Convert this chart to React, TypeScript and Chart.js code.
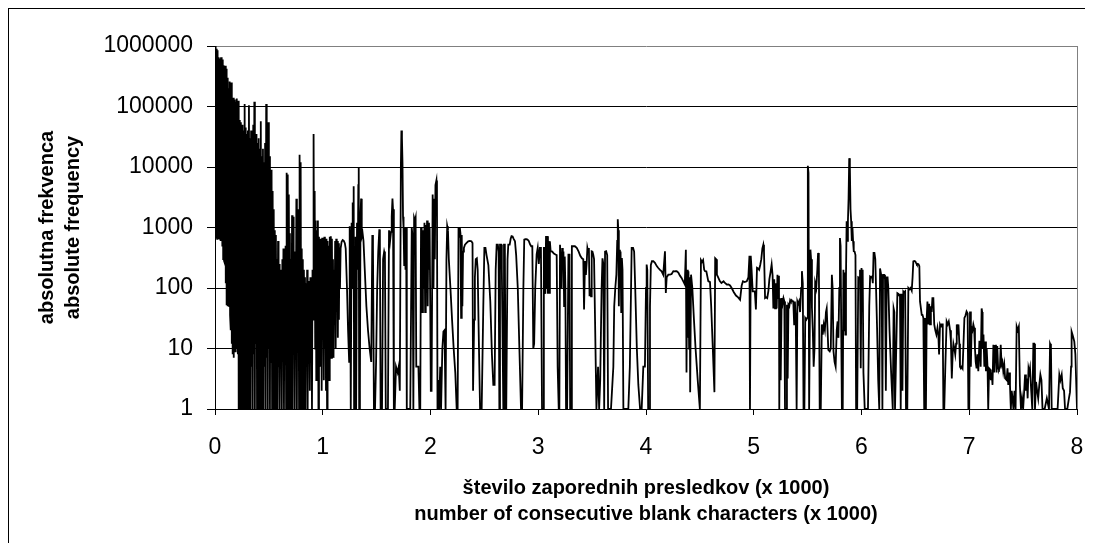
import React, { useEffect, useRef } from "react";
import { Chart, registerables } from "chart.js";

Chart.register(...registerables);

const xTickLabels = ["0", "1", "2", "3", "4", "5", "6", "7", "8"];
const yTickValues = [1, 10, 100, 1000, 10000, 100000, 1000000];
const xTitle = ["število zaporednih presledkov (x 1000)", "number of consecutive blank characters (x 1000)"];
const yTitle = ["absolutna frekvenca", "absolute frequency"];

// [number of consecutive blanks (x 1000), absolute frequency]
const headZone: [number, number][] = [
  [0, 1000000], [0.004, 700], [0.008, 980000], [0.012, 680], [0.016, 900000], [0.02, 650], [0.024, 850000], [0.028, 700],
  [0.032, 650000], [0.036, 680], [0.04, 620000], [0.044, 650], [0.048, 600000], [0.052, 600], [0.056, 650000], [0.06, 600],
  [0.064, 560000], [0.068, 500], [0.072, 600000], [0.076, 300], [0.08, 480000], [0.084, 280], [0.088, 450000], [0.092, 260],
  [0.096, 470000], [0.1, 120], [0.104, 420000], [0.108, 52], [0.112, 300000], [0.116, 50], [0.12, 250000], [0.124, 55],
  [0.128, 200000], [0.132, 50], [0.136, 260000], [0.14, 35], [0.144, 230000], [0.148, 20], [0.152, 250000], [0.156, 12],
  [0.16, 130000], [0.164, 8], [0.168, 140000], [0.172, 7], [0.176, 125000], [0.18, 10], [0.184, 130000], [0.188, 9],
  [0.192, 120000], [0.196, 12], [0.2, 135000], [0.204, 10], [0.208, 110000], [0.212, 8], [0.216, 125000], [0.22, 1],
  [0.224, 60000], [0.228, 10], [0.232, 50000], [0.236, 1], [0.24, 55000], [0.244, 15], [0.248, 45000], [0.252, 1], [0.256, 50000],
];

const denseZone: [number, number][] = [
  [0.26, 5], [0.265, 40000], [0.27, 1], [0.275, 110000], [0.28, 8], [0.285, 45000], [0.29, 1], [0.295, 35000],
  [0.3, 6], [0.305, 40000], [0.31, 1], [0.315, 105000], [0.32, 10], [0.325, 30000], [0.33, 1], [0.335, 40000],
  [0.34, 5], [0.345, 30000], [0.35, 1], [0.355, 50000], [0.36, 8], [0.365, 120000], [0.37, 1], [0.375, 30000],
  [0.38, 12], [0.385, 35000], [0.39, 1], [0.395, 25000], [0.4, 6], [0.405, 30000], [0.41, 1], [0.415, 20000],
  [0.42, 8], [0.425, 57000], [0.43, 1], [0.435, 15000], [0.44, 10], [0.445, 20000], [0.45, 1], [0.455, 12000],
  [0.46, 5], [0.465, 25000], [0.47, 1], [0.475, 110000], [0.48, 7], [0.485, 20000], [0.49, 1], [0.495, 55000],
  [0.5, 10], [0.505, 15000], [0.51, 1], [0.515, 8000], [0.52, 6], [0.525, 9000], [0.53, 1], [0.535, 4000],
];

const tailZone: [number, number][] = [
  [0.54, 1], [0.545, 2000], [0.55, 8], [0.555, 900], [0.56, 1], [0.565, 750], [0.57, 15], [0.575, 300],
  [0.58, 1], [0.585, 600], [0.59, 5], [0.595, 250], [0.6, 1], [0.605, 200], [0.61, 10], [0.615, 100],
  [0.62, 1], [0.625, 300], [0.63, 6], [0.635, 450], [0.64, 1], [0.645, 150], [0.65, 12], [0.655, 500],
  [0.66, 1], [0.665, 8000], [0.67, 3], [0.675, 7500], [0.68, 1], [0.685, 3500], [0.69, 20], [0.695, 800],
  [0.7, 1], [0.705, 300], [0.71, 8], [0.715, 1600], [0.72, 1], [0.725, 1500], [0.73, 30], [0.735, 400],
  [0.74, 1], [0.745, 150], [0.75, 10], [0.755, 3000], [0.76, 1], [0.765, 500], [0.77, 15], [0.775, 2000],
  [0.78, 1], [0.785, 16000], [0.79, 40], [0.795, 12000], [0.8, 1], [0.805, 450], [0.81, 8], [0.815, 300],
  [0.82, 1], [0.825, 200], [0.83, 20], [0.835, 150], [0.84, 1], [0.845, 120], [0.85, 6], [0.855, 200],
  [0.86, 1], [0.865, 130], [0.87, 10], [0.875, 100], [0.88, 2], [0.885, 150], [0.89, 8], [0.895, 130],
  [0.9, 1], [0.905, 200], [0.91, 30], [0.915, 35000], [0.92, 60], [0.925, 4000], [0.93, 10], [0.935, 1300],
  [0.94, 3], [0.945, 900], [0.95, 20], [0.955, 1300], [0.96, 1], [0.965, 700], [0.97, 10],
];

const zoneOne: [number, number][] = [
  [0.975, 650], [0.98, 5], [0.985, 600], [0.99, 2], [0.995, 680], [1, 30], [1.005, 620], [1.01, 3], [1.015, 700], [1.02, 10],
  [1.025, 550], [1.03, 2], [1.035, 650], [1.04, 1], [1.045, 600], [1.05, 8], [1.055, 500], [1.06, 3], [1.065, 700], [1.07, 20],
  [1.075, 720], [1.08, 7], [1.085, 650], [1.09, 12], [1.095, 300], [1.1, 7], [1.105, 200], [1.11, 25], [1.115, 600], [1.12, 10],
  [1.125, 650], [1.13, 40], [1.135, 600], [1.14, 15], [1.145, 550], [1.15, 30], [1.155, 400], [1.16, 100], [1.166, 450],
  [1.175, 580], [1.185, 620], [1.195, 600], [1.205, 550], [1.213, 450], [1.225, 100], [1.235, 20], [1.245, 6], [1.25, 1050],
  [1.255, 200], [1.258, 900], [1.262, 1], [1.268, 1200], [1.273, 100], [1.278, 2600], [1.283, 300], [1.287, 4800], [1.291, 1],
  [1.3, 1], [1.305, 700], [1.31, 1], [1.318, 1200], [1.325, 200], [1.33, 5000], [1.334, 10000], [1.338, 1], [1.345, 2],
  [1.35, 1500], [1.356, 3000], [1.362, 700], [1.37, 800], [1.378, 600], [1.39, 200], [1.405, 50], [1.42, 20], [1.435, 10],
  [1.45, 6], [1.46, 750], [1.466, 500], [1.475, 1], [1.485, 1], [1.495, 6], [1.505, 100], [1.515, 400], [1.525, 930],
  [1.53, 800], [1.537, 1], [1.55, 1], [1.56, 300], [1.57, 400], [1.577, 350], [1.585, 1], [1.605, 1], [1.615, 900],
  [1.625, 600], [1.634, 850], [1.64, 1500], [1.647, 3000], [1.652, 2000], [1.66, 1], [1.668, 1], [1.68, 5], [1.695, 4],
  [1.705, 5], [1.715, 2], [1.725, 10000], [1.73, 40000], [1.735, 30000], [1.74, 12000], [1.745, 1500], [1.75, 990],
  [1.756, 240], [1.762, 1000], [1.768, 200], [1.774, 990], [1.78, 1], [1.812, 1], [1.826, 990], [1.834, 700], [1.841, 1],
  [1.848, 1450], [1.856, 1300], [1.862, 1450], [1.868, 5], [1.88, 5], [1.888, 5], [1.897, 1], [1.905, 1], [1.912, 1000],
  [1.918, 750], [1.924, 40], [1.93, 900], [1.937, 100], [1.944, 1200], [1.95, 40], [1.956, 1100], [1.962, 200], [1.968, 1300],
  [1.974, 50], [1.98, 1200], [1.986, 200], [1.992, 1000], [1.998, 40],
];

const zoneTwo: [number, number][] = [
  [2.003, 2], [2.01, 2], [2.02, 3500], [2.028, 100], [2.034, 3000], [2.04, 300], [2.046, 5000], [2.055, 6000], [2.06, 3000],
  [2.065, 1], [2.072, 3], [2.08, 1], [2.09, 5], [2.098, 1], [2.11, 10], [2.12, 19], [2.13, 20], [2.14, 1], [2.148, 300],
  [2.155, 1050], [2.162, 900], [2.17, 300], [2.185, 100], [2.2, 30], [2.215, 10], [2.23, 4], [2.243, 1], [2.252, 1],
  [2.26, 990], [2.266, 700], [2.272, 1000], [2.278, 800], [2.284, 32], [2.29, 750], [2.296, 50], [2.302, 400], [2.31, 460],
  [2.32, 520], [2.335, 555], [2.35, 590], [2.365, 600], [2.38, 593], [2.39, 555], [2.395, 2], [2.4, 2], [2.405, 30],
  [2.412, 150], [2.42, 300], [2.43, 310], [2.438, 200], [2.447, 20], [2.46, 1], [2.475, 1], [2.49, 50], [2.5, 460],
  [2.51, 460], [2.52, 350], [2.537, 240], [2.555, 60], [2.57, 8], [2.583, 2.5], [2.595, 2.5], [2.605, 200], [2.614, 523],
  [2.625, 523], [2.632, 400], [2.639, 1], [2.645, 523], [2.655, 523], [2.662, 200], [2.676, 1], [2.682, 523], [2.69, 523],
  [2.697, 1], [2.703, 1], [2.715, 300], [2.722, 523], [2.735, 523], [2.744, 650], [2.752, 720], [2.762, 710], [2.772, 650],
  [2.784, 593], [2.795, 350], [2.81, 100], [2.825, 10], [2.84, 1], [2.85, 1], [2.862, 100], [2.87, 630], [2.88, 640],
  [2.89, 640], [2.9, 630], [2.912, 600], [2.925, 523], [2.935, 490], [2.945, 490], [2.954, 10], [2.962, 12], [2.972, 100],
  [2.985, 360], [2.995, 460],
];

const zoneThree: [number, number][] = [
  [3.005, 250], [3.015, 460], [3.025, 460], [3.035, 1], [3.047, 1], [3.052, 460], [3.06, 460], [3.066, 80], [3.072, 720],
  [3.078, 100], [3.084, 720], [3.09, 80], [3.096, 600], [3.102, 83], [3.108, 593], [3.115, 405], [3.13, 400], [3.145, 370],
  [3.16, 357], [3.171, 350], [3.18, 5], [3.19, 1], [3.196, 1], [3.202, 520], [3.21, 520], [3.217, 100], [3.222, 460],
  [3.228, 200], [3.234, 400], [3.24, 50], [3.246, 330], [3.252, 100], [3.258, 1], [3.268, 1], [3.28, 357], [3.29, 357],
  [3.296, 1], [3.306, 1], [3.312, 490], [3.325, 490], [3.34, 490], [3.357, 460], [3.375, 400], [3.39, 340], [3.405, 310],
  [3.418, 300], [3.425, 44], [3.434, 280], [3.442, 165], [3.45, 270], [3.456, 460], [3.463, 400], [3.47, 460], [3.476, 73],
  [3.484, 100], [3.49, 73], [3.496, 405], [3.503, 400], [3.51, 357], [3.518, 300], [3.527, 30], [3.54, 1], [3.555, 5],
  [3.565, 1], [3.575, 3], [3.588, 100], [3.596, 310], [3.604, 250], [3.612, 1], [3.62, 400], [3.63, 405], [3.64, 350],
  [3.648, 1], [3.675, 1], [3.69, 3], [3.697, 5], [3.705, 50], [3.715, 100], [3.725, 166], [3.733, 600], [3.738, 1370],
  [3.743, 900], [3.748, 50], [3.752, 430], [3.758, 100], [3.764, 400], [3.77, 40], [3.776, 314], [3.782, 200], [3.79, 1],
  [3.836, 1], [3.85, 5], [3.867, 460], [3.88, 460], [3.89, 400], [3.9, 100], [3.915, 10], [3.929, 2.5], [3.945, 1],
  [3.96, 1], [3.975, 5], [3.99, 5],
];

const zoneFour: [number, number][] = [
  [4, 100], [4.006, 244], [4.012, 200], [4.02, 1], [4.03, 1], [4.037, 50], [4.045, 240], [4.055, 277], [4.068, 277],
  [4.083, 260], [4.1, 230], [4.114, 214], [4.13, 200], [4.145, 189], [4.16, 166], [4.176, 405], [4.184, 83], [4.192, 150],
  [4.207, 166], [4.222, 166], [4.238, 170], [4.254, 190], [4.27, 189], [4.285, 189], [4.3, 180], [4.315, 160], [4.33, 147],
  [4.345, 130], [4.36, 115], [4.37, 430], [4.376, 4], [4.382, 200], [4.388, 15], [4.394, 190], [4.4, 10], [4.406, 150],
  [4.41, 1.9], [4.418, 166], [4.43, 100], [4.445, 30], [4.46, 10], [4.48, 3], [4.5, 1], [4.51, 290], [4.52, 270], [4.53, 290],
  [4.54, 200], [4.548, 190], [4.56, 189], [4.578, 130], [4.594, 125], [4.605, 50], [4.62, 10], [4.635, 1.9], [4.642, 310],
  [4.65, 300], [4.658, 166], [4.67, 150], [4.685, 130], [4.7, 121], [4.72, 129], [4.735, 120], [4.75, 114], [4.765, 115],
  [4.78, 110], [4.795, 100], [4.815, 85], [4.835, 75], [4.855, 70], [4.873, 64], [4.888, 110], [4.9, 129], [4.915, 125],
  [4.935, 129], [4.95, 150], [4.96, 340], [4.965, 1], [4.972, 340], [4.98, 200], [4.99, 88],
];

const zoneFive: [number, number][] = [
  [5, 88], [5.01, 88], [5.02, 44], [5.03, 215], [5.04, 210], [5.05, 200], [5.06, 240], [5.07, 300], [5.08, 450], [5.089, 520],
  [5.095, 400], [5.105, 68], [5.115, 70], [5.125, 68], [5.136, 90], [5.145, 140], [5.155, 180], [5.166, 245], [5.175, 160],
  [5.182, 46], [5.19, 140], [5.198, 46], [5.206, 120], [5.213, 46], [5.22, 166], [5.228, 68], [5.234, 160], [5.237, 1],
  [5.244, 68], [5.25, 3], [5.259, 68], [5.268, 55], [5.276, 68], [5.284, 60], [5.29, 1], [5.3, 1], [5.308, 53], [5.315, 3.2],
  [5.322, 53], [5.33, 50], [5.338, 63], [5.345, 60], [5.352, 63], [5.36, 60], [5.367, 60], [5.375, 25], [5.382, 60],
  [5.39, 30], [5.398, 1], [5.405, 60], [5.412, 55], [5.42, 60], [5.43, 40], [5.44, 100], [5.447, 190], [5.455, 120],
  [5.462, 1], [5.47, 1], [5.478, 32], [5.488, 30], [5.496, 32], [5.502, 10500], [5.508, 8000], [5.514, 1], [5.52, 1],
  [5.526, 430], [5.532, 300], [5.54, 47], [5.548, 20], [5.556, 5], [5.564, 10], [5.57, 121], [5.58, 100], [5.59, 200],
  [5.597, 380], [5.604, 300], [5.612, 1], [5.622, 1], [5.632, 25], [5.64, 17], [5.65, 25], [5.66, 20], [5.67, 40],
  [5.677, 46], [5.685, 20], [5.692, 9.5], [5.705, 9], [5.715, 10], [5.725, 166], [5.732, 100], [5.74, 9], [5.75, 6],
  [5.76, 5], [5.77, 20], [5.778, 28], [5.786, 15], [5.794, 100], [5.8, 670], [5.806, 500], [5.812, 20], [5.818, 1],
  [5.826, 1], [5.832, 200], [5.838, 20], [5.844, 180], [5.85, 17], [5.856, 150], [5.862, 1270], [5.868, 600], [5.874, 1270],
  [5.88, 3000], [5.886, 14000], [5.892, 10000], [5.898, 2000], [5.904, 1270], [5.91, 600], [5.916, 1000], [5.922, 590],
  [5.928, 405], [5.936, 400], [5.944, 350], [5.95, 1], [5.96, 1], [5.97, 150], [5.978, 147], [5.986, 200], [5.993, 4.7],
];

const zoneSix: [number, number][] = [
  [6, 214], [6.006, 150], [6.011, 200], [6.018, 4], [6.03, 1], [6.06, 1], [6.072, 50], [6.08, 155], [6.09, 150], [6.098, 155],
  [6.105, 120], [6.112, 380], [6.12, 380], [6.128, 300], [6.135, 100], [6.145, 20], [6.155, 3], [6.165, 1], [6.172, 210],
  [6.18, 210], [6.187, 150], [6.194, 1], [6.2, 165], [6.21, 165], [6.218, 140], [6.226, 2], [6.234, 150], [6.242, 150],
  [6.249, 100], [6.26, 20], [6.275, 4], [6.29, 1], [6.298, 46], [6.305, 40], [6.311, 1], [6.32, 1], [6.333, 82], [6.342, 80],
  [6.35, 75], [6.357, 80], [6.364, 1], [6.372, 80], [6.38, 2], [6.388, 88], [6.396, 85], [6.405, 88], [6.413, 1], [6.425, 1],
  [6.435, 100], [6.445, 95], [6.455, 100], [6.466, 90], [6.474, 150], [6.481, 275], [6.49, 280], [6.5, 275], [6.506, 260],
  [6.514, 245], [6.522, 250], [6.53, 245], [6.537, 230], [6.543, 60], [6.551, 60], [6.559, 36], [6.566, 36], [6.574, 32],
  [6.582, 1], [6.59, 32], [6.598, 1], [6.605, 32], [6.612, 60], [6.62, 25], [6.628, 55], [6.636, 25], [6.644, 50],
  [6.651, 40], [6.658, 68], [6.667, 68], [6.675, 25], [6.685, 20], [6.695, 17], [6.705, 22], [6.713, 17], [6.72, 8],
  [6.729, 25], [6.738, 23], [6.746, 25], [6.754, 25], [6.76, 1], [6.768, 1], [6.778, 5], [6.79, 28], [6.8, 25], [6.81, 28],
  [6.822, 20], [6.83, 13], [6.838, 3.2], [6.846, 8], [6.853, 12], [6.862, 10], [6.87, 8], [6.878, 12], [6.884, 25],
  [6.892, 20], [6.9, 25], [6.908, 12], [6.914, 5], [6.922, 4.7], [6.93, 5], [6.938, 4.7], [6.945, 10], [6.955, 32],
  [6.965, 35], [6.975, 41], [6.985, 38], [6.992, 1],
];

const zoneSeven: [number, number][] = [
  [7, 1], [7.007, 41], [7.015, 5], [7.022, 22], [7.03, 20], [7.038, 25], [7.045, 22], [7.053, 10], [7.06, 6], [7.068, 4.7],
  [7.076, 8], [7.084, 4.2], [7.094, 13], [7.1, 13], [7.106, 5], [7.115, 46], [7.12, 40], [7.124, 10], [7.132, 17], [7.14, 5],
  [7.148, 13], [7.155, 4.2], [7.162, 10], [7.17, 4.7], [7.176, 1], [7.184, 4.7], [7.193, 4.5], [7.2, 3], [7.208, 4],
  [7.216, 2.5], [7.224, 11.5], [7.232, 4], [7.24, 11], [7.248, 11.5], [7.254, 4], [7.26, 11], [7.268, 4.7], [7.276, 4.5],
  [7.285, 5], [7.292, 11.5], [7.3, 5.4], [7.308, 6], [7.316, 4.2], [7.325, 5.4], [7.333, 3.2], [7.34, 3.2], [7.347, 3],
  [7.355, 4.7], [7.362, 2.5], [7.37, 4], [7.378, 2.5], [7.386, 1], [7.394, 2], [7.402, 1.5], [7.41, 1], [7.42, 2], [7.43, 1],
  [7.44, 23], [7.45, 20], [7.46, 23], [7.47, 2.5], [7.48, 1], [7.49, 1.5], [7.5, 1], [7.51, 2], [7.518, 3.7], [7.526, 2],
  [7.534, 3.2], [7.542, 1.5], [7.55, 4.7], [7.558, 4], [7.564, 4.7], [7.575, 2], [7.585, 1], [7.595, 12], [7.603, 12],
  [7.61, 1], [7.62, 2.8], [7.63, 2], [7.64, 1.5], [7.65, 2.5], [7.66, 3.7], [7.67, 3], [7.68, 1], [7.7, 1], [7.72, 1.5],
  [7.74, 1], [7.75, 12], [7.758, 11], [7.765, 1], [7.82, 1], [7.836, 3.7], [7.846, 3], [7.858, 3.7], [7.868, 2.2], [7.88, 2],
  [7.889, 1], [7.91, 1], [7.925, 1.5], [7.935, 1.9], [7.945, 5], [7.95, 19], [7.958, 17], [7.966, 15], [7.975, 13],
  [7.985, 8], [7.992, 3], [8, 1],
];

const allZones = [headZone, denseZone, tailZone, zoneOne, zoneTwo, zoneThree, zoneFour, zoneFive, zoneSix, zoneSeven];

const FONT = "'Liberation Sans', Arial, Helvetica, sans-serif";

export default function App() {
  const ref = useRef<HTMLCanvasElement>(null);

  useEffect(() => {
    document.documentElement.style.overflow = "hidden";
    document.body.style.overflow = "hidden";
    const canvas = ref.current;
    if (!canvas) return;
    const points = allZones.flat().map(([x, y]) => ({ x, y }));

    const plotFrame = {
      id: "plotFrame",
      beforeDatasetsDraw(chart: any) {
        const { ctx, chartArea: a } = chart;
        ctx.save();
        ctx.strokeStyle = "#808080";
        ctx.lineWidth = 1;
        ctx.beginPath();
        const x = Math.round(a.right) + 0.5;
        ctx.moveTo(x, a.top);
        ctx.lineTo(x, a.bottom);
        ctx.stroke();
        ctx.restore();
      },
    };

    const chart = new Chart(canvas, {
      type: "line",
      data: {
        datasets: [
          {
            data: points,
            borderColor: "#000000",
            borderWidth: 1.8,
            pointRadius: 0,
            tension: 0,
            fill: false,
          },
        ],
      },
      options: {
        animation: false,
        responsive: false,
        devicePixelRatio: 1,
        layout: { padding: { top: 37, right: 8, left: 0, bottom: 0 } },
        plugins: { legend: { display: false }, tooltip: { enabled: false } },
        scales: {
          x: {
            type: "linear",
            min: 0,
            max: 8,
            ticks: {
              stepSize: 1,
              autoSkip: false,
              maxRotation: 0,
              padding: 19,
              color: "#000",
              font: { family: FONT, size: 23 },
              callback: (v: any) => xTickLabels[Math.round(Number(v))] ?? "",
            },
            grid: { drawOnChartArea: false, drawTicks: true, tickLength: 6, tickColor: "#000", color: "#000" },
            border: { color: "#000", width: 1 },
            title: {
              display: true,
              text: xTitle,
              color: "#000",
              font: { family: FONT, size: 20, weight: "bold", lineHeight: "26.5px" },
              padding: { top: 0, bottom: 15 },
            },
            afterFit: (s: any) => {
              s.height = 134;
              s.paddingLeft = 0;
              s.paddingRight = 0;
            },
          },
          y: {
            type: "logarithmic",
            min: 1,
            max: 1000000,
            afterBuildTicks: (s: any) => {
              s.ticks = yTickValues.map((v) => ({ value: v }));
            },
            ticks: {
              padding: 14,
              color: "#000",
              font: { family: FONT, size: 23 },
              callback: (v: any) => String(v),
            },
            grid: {
              color: (c: any) => (c.tick && c.tick.value === 1000000 ? "#808080" : "#000000"),
              tickColor: "#000",
              tickLength: 8,
              lineWidth: 1,
            },
            border: { color: "#000", width: 1 },
            title: {
              display: true,
              text: yTitle,
              color: "#000",
              font: { family: FONT, size: 20, weight: "bold", lineHeight: "26.5px" },
              padding: { top: 25, bottom: 0 },
            },
            afterFit: (s: any) => {
              s.width = 206;
              s.paddingTop = 0;
              s.paddingBottom = 0;
            },
          },
        },
      },
      plugins: [plotFrame],
    } as any);

    return () => chart.destroy();
  }, []);

  return (
    <div
      style={{
        borderTop: "1px solid #000",
        borderLeft: "1px solid #000",
        width: 1076,
        height: 534,
        overflow: "hidden",
      }}
    >
      <canvas ref={ref} width={1076} height={534} style={{ display: "block", width: 1076, height: 534 }} />
    </div>
  );
}
